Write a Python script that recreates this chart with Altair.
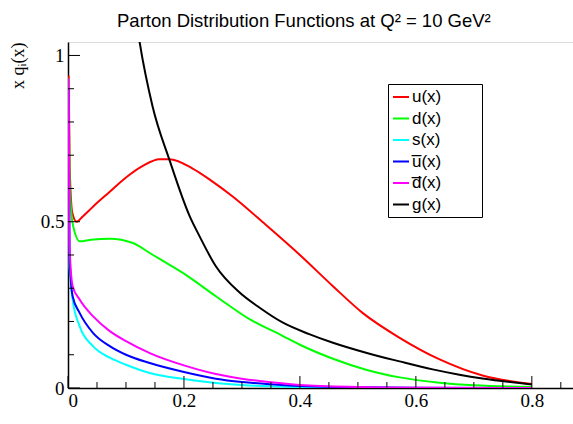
import altair as alt
import pandas as pd

series_names = ["u(x)", "d(x)", "s(x)", "u\u0305(x)", "d\u0305(x)", "g(x)"]
series_colors = ["#ff0000", "#00ff00", "#00ffff", "#0000ff", "#ff00ff", "#000000"]

u_x = [0.001, 0.003, 0.0074, 0.015, 0.025, 0.0435, 0.072, 0.1, 0.129, 0.158, 0.175, 0.215,
       0.25, 0.284, 0.341, 0.4, 0.457, 0.508, 0.572, 0.641, 0.715, 0.8]
u_y = [0.94, 0.66, 0.527, 0.50, 0.515, 0.546, 0.59, 0.633, 0.668, 0.688, 0.688, 0.66,
       0.62, 0.576, 0.491, 0.40, 0.306, 0.226, 0.151, 0.086, 0.0375, 0.012]

d_x = [0.001, 0.003, 0.009, 0.0206, 0.04, 0.072, 0.112, 0.141, 0.158, 0.198, 0.255,
       0.313, 0.37, 0.4, 0.457, 0.514, 0.572, 0.641, 0.7, 0.8]
d_y = [0.93, 0.60, 0.486, 0.441, 0.446, 0.449, 0.436, 0.406, 0.388, 0.346, 0.276,
       0.207, 0.157, 0.13, 0.088, 0.055, 0.032, 0.016, 0.008, 0.003]

sea_x = [0.001, 0.0026, 0.008, 0.02, 0.043, 0.072, 0.1, 0.141, 0.2, 0.255, 0.3, 0.35,
         0.4, 0.5, 0.6, 0.8]
s_y = [0.72, 0.366, 0.266, 0.186, 0.126, 0.091, 0.07, 0.045, 0.027, 0.015, 0.009, 0.005,
       0.003, 0.001, 0.0003, 0.0]
ubar_y = [0.90, 0.40, 0.276, 0.226, 0.166, 0.126, 0.10, 0.075, 0.048, 0.028, 0.018, 0.011,
          0.006, 0.002, 0.0006, 0.0]
dbar_y = [0.93, 0.43, 0.306, 0.266, 0.216, 0.171, 0.141, 0.105, 0.068, 0.042, 0.028, 0.017,
          0.009, 0.003, 0.001, 0.0]

g_x = [0.05, 0.08, 0.1, 0.123, 0.146, 0.175, 0.21, 0.227, 0.255, 0.296, 0.33, 0.37,
       0.416, 0.457, 0.514, 0.572, 0.629, 0.675, 0.715, 0.8]
g_y = [2.6, 1.7, 1.35, 1.046, 0.846, 0.686, 0.516, 0.456, 0.366, 0.287, 0.242, 0.197,
       0.162, 0.136, 0.106, 0.08, 0.056, 0.04, 0.0285, 0.0105]

x_major = [0.0, 0.2, 0.4, 0.6, 0.8]
x_minor = [0.05, 0.1, 0.15, 0.25, 0.3, 0.35, 0.45, 0.5, 0.55, 0.65, 0.7, 0.75, 0.85]
y_major = [0.0, 0.5, 1.0]
y_minor = [0.1, 0.2, 0.3, 0.4, 0.6, 0.7, 0.8, 0.9]

series_data = [(u_x, u_y), (d_x, d_y), (sea_x, s_y), (sea_x, ubar_y), (sea_x, dbar_y), (g_x, g_y)]
rows = []
for i, (name, (xs, ys)) in enumerate(zip(series_names, series_data)):
    for j, (xv, yv) in enumerate(zip(xs, ys)):
        rows.append({"series": name, "order": i, "idx": j, "x": xv, "y": yv})
df = pd.DataFrame(rows)

W, H = 505, 346
xscale = alt.Scale(domain=[0, 0.871], nice=False, zero=False)
yscale = alt.Scale(domain=[0, 1.0405], nice=False, zero=False)

x_axis = alt.Axis(values=x_major, ticks=False, tickSize=0, grid=False,
                  labelExpr="datum.value == 0 ? '0' : format(datum.value, '.1f')",
                  labelFont="Liberation Serif", labelFontSize=19, labelColor="#000",
                  labelPadding=3, domainColor="#000", domainWidth=1.5,
                  title="x", titleFont="Liberation Serif", titleFontSize=19,
                  titleFontWeight="normal", titleColor="#000",
                  titleAlign="left", titleBaseline="alphabetic",
                  titleX=499, titleY=44)
y_axis = alt.Axis(values=y_major, ticks=False, tickSize=0, grid=False,
                  labelExpr="datum.value == 0 ? '0' : (datum.value == 1 ? '1' : format(datum.value, '.1f'))",
                  labelFont="Liberation Serif", labelFontSize=19, labelColor="#000",
                  labelPadding=4, domainColor="#000", domainWidth=1.5,
                  title="x q\u1d62(x)", titleFont="Liberation Serif", titleFontSize=18,
                  titleFontWeight="normal", titleColor="#000",
                  titleAngle=270, titleAlign="right", titleBaseline="middle",
                  titleX=-50, titleY=0)

lines = alt.Chart(df).mark_line(strokeWidth=2, clip=True, interpolate="monotone").encode(
    x=alt.X("x:Q", scale=xscale, axis=x_axis),
    y=alt.Y("y:Q", scale=yscale, axis=y_axis),
    color=alt.Color("series:N", sort=series_names,
                    scale=alt.Scale(domain=series_names, range=series_colors),
                    legend=alt.Legend(title=None, orient="none", legendX=320, legendY=42,
                                      symbolType="stroke", symbolSize=256, symbolStrokeWidth=2,
                                      labelFont="Liberation Sans", labelFontSize=17,
                                      labelColor="#000", labelOffset=2, rowPadding=4.5,
                                      labelExpr="datum.label + '\u2800\u2800\u2800'",
                                      strokeColor="#000", fillColor="#fff", padding=4,
                                      labelLimit=300)),
    detail="series:N",
    order="idx:Q",
)

def ticks(values, axis, length):
    d = pd.DataFrame({"x" if axis == "x" else "y": values})
    if axis == "x":
        return alt.Chart(d).mark_rule(color="#000", strokeWidth=1).encode(
            x=alt.X("x:Q", scale=xscale, axis=x_axis),
            y=alt.value(H), y2=alt.value(H - length))
    return alt.Chart(d).mark_rule(color="#000", strokeWidth=1).encode(
        y=alt.Y("y:Q", scale=yscale, axis=y_axis),
        x=alt.value(0), x2=alt.value(length))

chart = alt.layer(
    lines,
    ticks(x_major, "x", 12), ticks(x_minor, "x", 6),
    ticks(y_major, "y", 12), ticks(y_minor, "y", 6),
).properties(
    width=W, height=H,
    title=alt.TitleParams("Parton Distribution Functions at Q\u00b2 = 10 GeV\u00b2",
                          font="Liberation Sans", fontSize=18.5, fontWeight="normal",
                          color="#000", anchor="start", frame="group", dx=49, dy=18,
                          offset=15, baseline="alphabetic"),
    padding={"left": 68, "top": 42, "right": 0, "bottom": 36},
    autosize=alt.AutoSizeParams(type="none"),
).configure_view(stroke="#000", strokeWidth=1).configure(background="#fff")

chart.save("out.html", embed_options={"renderer": "svg", "actions": False})
